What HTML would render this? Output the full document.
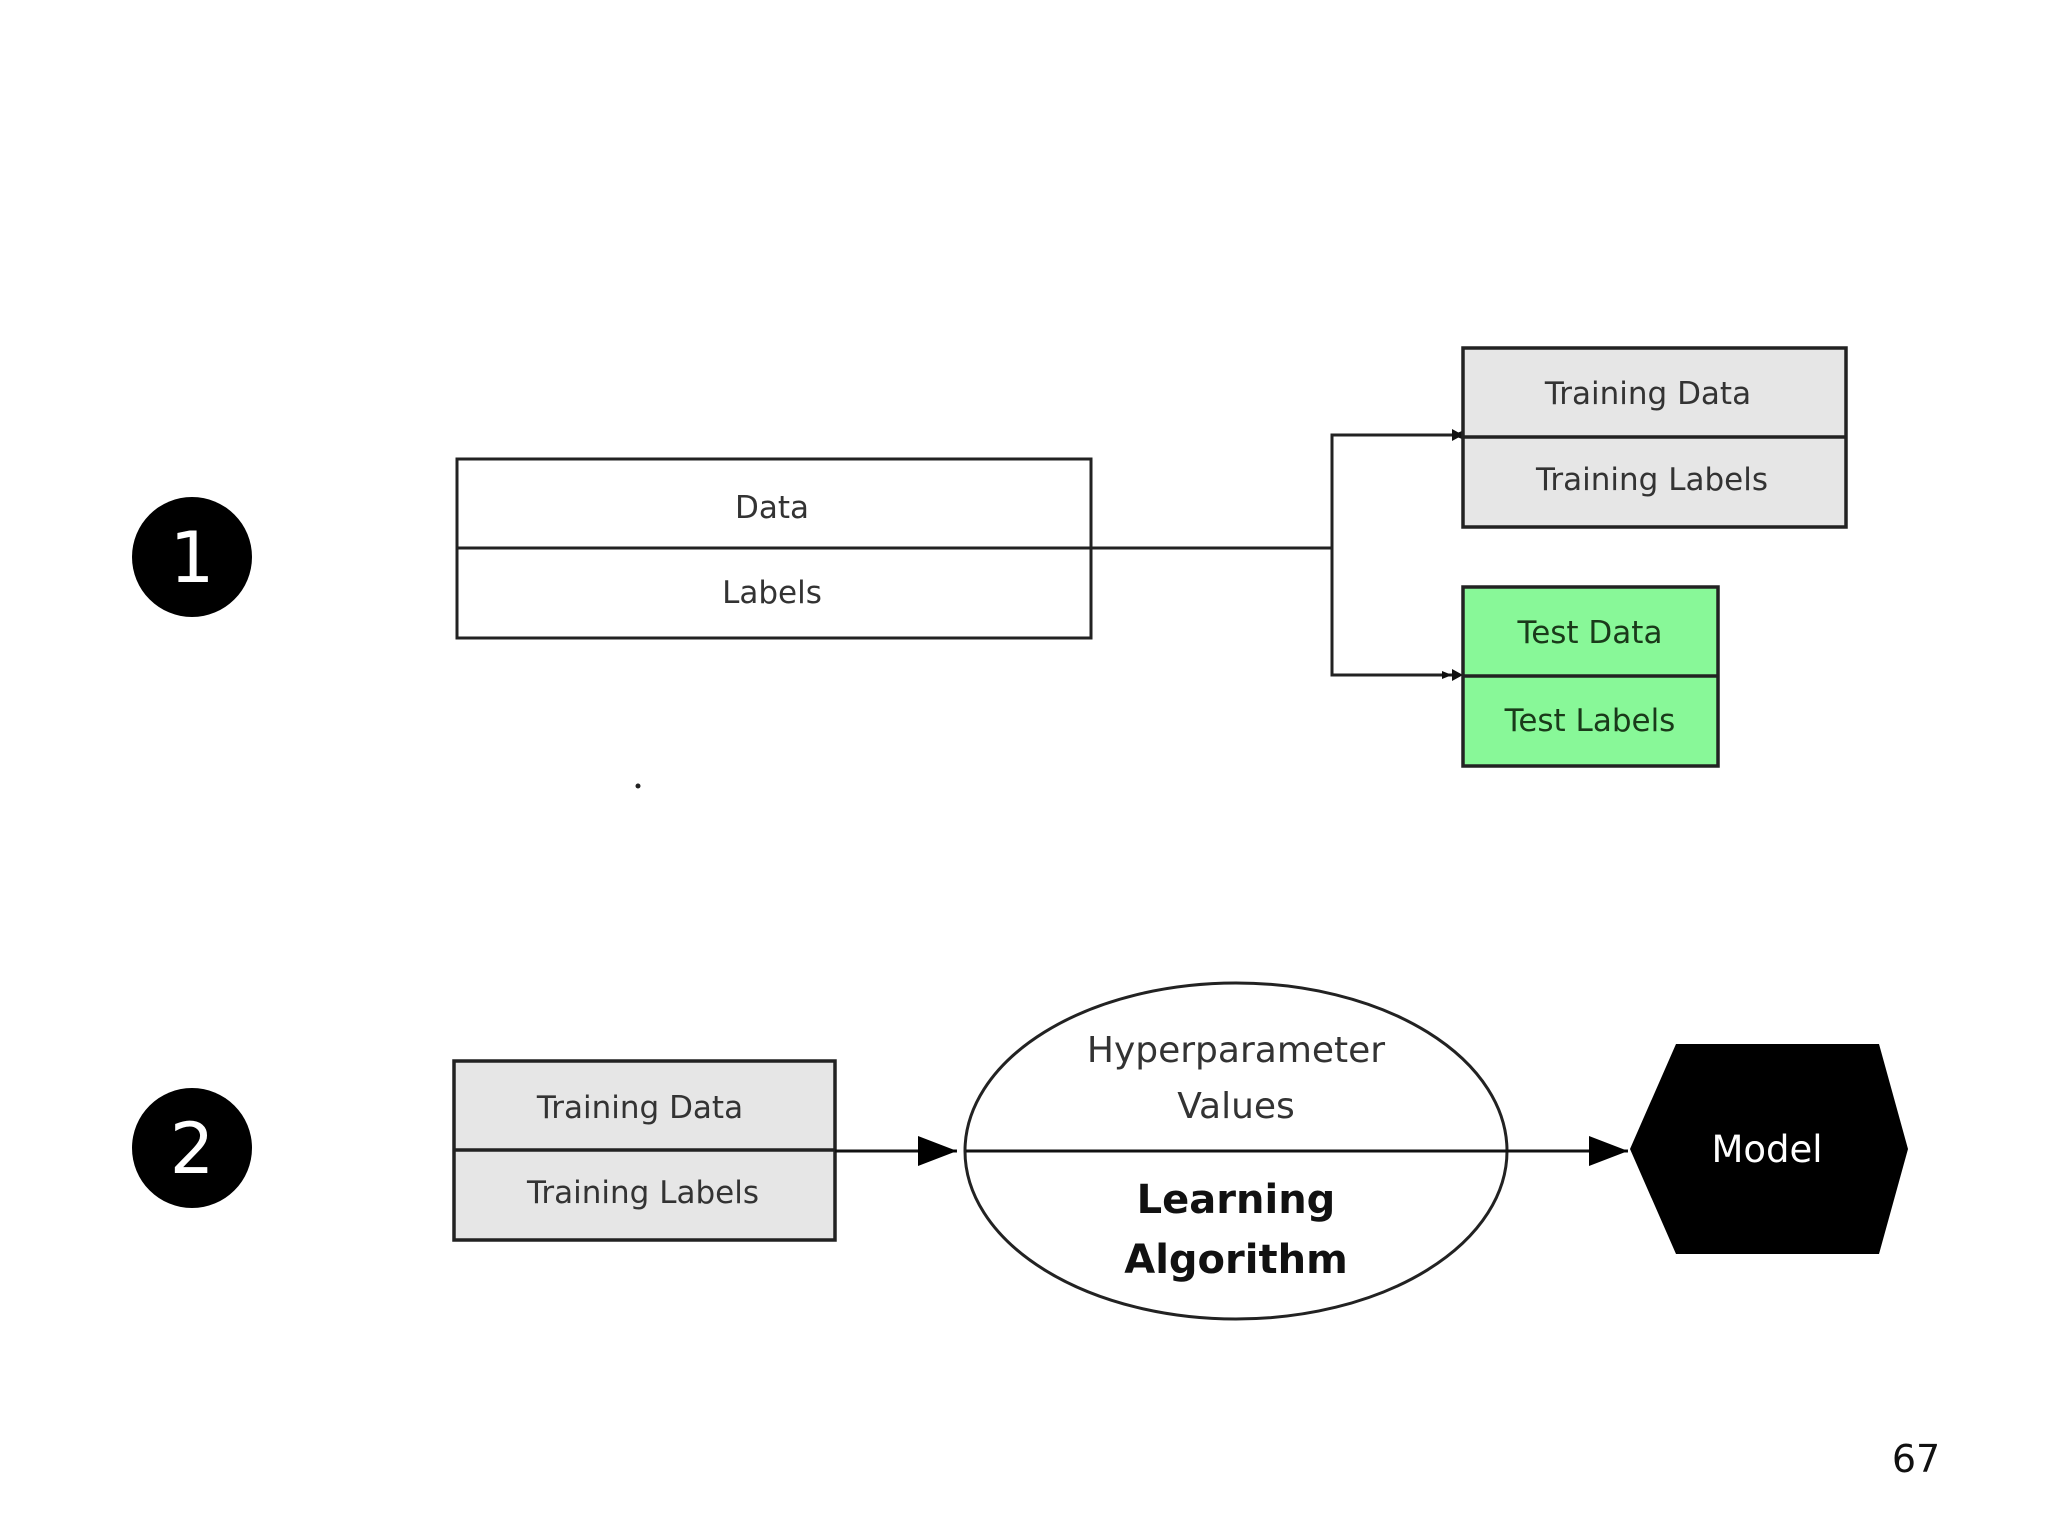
<!DOCTYPE html>
<html><head><style>
html,body{margin:0;padding:0;background:#fff;}
svg{display:block;}
text{font-family:"DejaVu Sans","Liberation Sans",sans-serif;}
</style></head><body>
<svg width="2048" height="1536" viewBox="0 0 2048 1536" xmlns="http://www.w3.org/2000/svg">
<defs>
<marker id="a1" markerWidth="10" markerHeight="8" refX="10" refY="4" orient="auto" markerUnits="userSpaceOnUse"><path d="M0,0 L10,4 L0,8 Z" fill="#111"/></marker>
<marker id="a2" markerWidth="40" markerHeight="32" refX="40" refY="16" orient="auto" markerUnits="userSpaceOnUse"><path d="M0,0 L40,16 L0,32 Z" fill="#000"/></marker>
</defs>
<!-- circles -->
<circle cx="192" cy="557" r="60" fill="#000"/>
<text x="192" y="582" font-size="70" fill="#fff" text-anchor="middle">1</text>
<circle cx="192" cy="1148" r="60" fill="#000"/>
<text x="192" y="1173" font-size="70" fill="#fff" text-anchor="middle">2</text>

<!-- Data box -->
<rect x="457" y="459" width="634" height="179" fill="#fff" stroke="#222" stroke-width="3"/>
<line x1="457" y1="548" x2="1091" y2="548" stroke="#222" stroke-width="3"/>
<text x="772" y="518" font-size="31" fill="#333" text-anchor="middle">Data</text>
<text x="772" y="603" font-size="31" fill="#333" text-anchor="middle">Labels</text>

<!-- connectors -->
<polyline points="1091,548 1332,548" fill="none" stroke="#222" stroke-width="3"/>
<polyline points="1452,435 1332,435 1332,675 1452,675" fill="none" stroke="#222" stroke-width="3" marker-start="url(#a1)" marker-end="url(#a1)"/>
<path d="M1452,429 L1452,441 L1463,435 Z" fill="#111"/>
<path d="M1452,669 L1452,681 L1463,675 Z" fill="#111"/>

<!-- Training box -->
<rect x="1463" y="348" width="383" height="179" fill="#e6e6e6" stroke="#222" stroke-width="3.5"/>
<line x1="1463" y1="437" x2="1846" y2="437" stroke="#222" stroke-width="3.5"/>
<text x="1648" y="404" font-size="31" fill="#333" text-anchor="middle">Training Data</text>
<text x="1652" y="490" font-size="31" fill="#333" text-anchor="middle">Training Labels</text>

<!-- Test box -->
<rect x="1463" y="587" width="255" height="179" fill="#88f898" stroke="#222" stroke-width="3.5"/>
<line x1="1463" y1="676" x2="1718" y2="676" stroke="#222" stroke-width="3.5"/>
<text x="1590" y="643" font-size="31" fill="#1a3a1a" text-anchor="middle">Test Data</text>
<text x="1590" y="731" font-size="31" fill="#1a3a1a" text-anchor="middle">Test Labels</text>

<circle cx="638" cy="786" r="2.5" fill="#222"/>

<!-- Box 2 -->
<rect x="454" y="1061" width="381" height="179" fill="#e6e6e6" stroke="#222" stroke-width="3.5"/>
<line x1="454" y1="1150" x2="835" y2="1150" stroke="#222" stroke-width="3.5"/>
<text x="640" y="1118" font-size="31" fill="#333" text-anchor="middle">Training Data</text>
<text x="643" y="1203" font-size="31" fill="#333" text-anchor="middle">Training Labels</text>

<line x1="835" y1="1151" x2="957" y2="1151" stroke="#111" stroke-width="3"/>
<path d="M918,1136 L957,1151 L918,1166 Z" fill="#000"/>

<!-- Ellipse -->
<ellipse cx="1236" cy="1151" rx="271" ry="168" fill="#fff" stroke="#222" stroke-width="3"/>
<line x1="966" y1="1151" x2="1628" y2="1151" stroke="#111" stroke-width="3"/>
<path d="M1589,1136 L1628,1151 L1589,1166 Z" fill="#000"/>
<text x="1236" y="1062" font-size="36" fill="#333" text-anchor="middle">Hyperparameter</text>
<text x="1236" y="1118" font-size="36" fill="#333" text-anchor="middle">Values</text>
<text x="1236" y="1213" font-size="40" font-weight="bold" fill="#111" text-anchor="middle">Learning</text>
<text x="1236" y="1273" font-size="40" font-weight="bold" fill="#111" text-anchor="middle">Algorithm</text>

<!-- Hexagon -->
<polygon points="1676,1044 1879,1044 1908,1149 1879,1254 1676,1254 1630,1149" fill="#000"/>
<text x="1767" y="1162" font-size="37" fill="#fff" text-anchor="middle">Model</text>

<text x="1916" y="1472" font-size="38" fill="#111" text-anchor="middle">67</text>
</svg>
</body></html>
